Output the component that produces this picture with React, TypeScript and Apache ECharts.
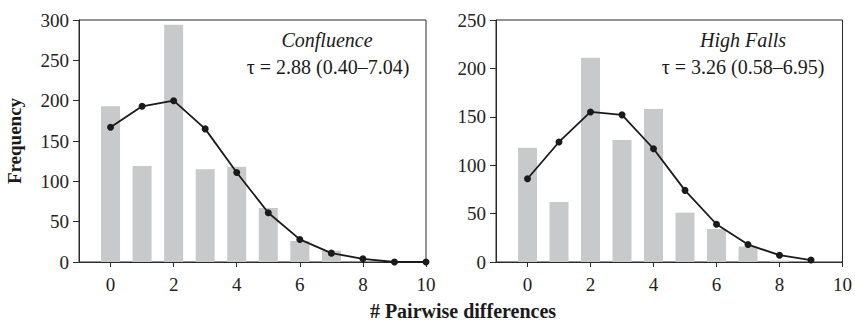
import React, { useEffect, useRef } from "react";
import * as echarts from "echarts";

const xTicks = [0, 2, 4, 6, 8, 10];
const leftX = [0, 1, 2, 3, 4, 5, 6, 7, 8, 9, 10];
const leftBars = [193, 119, 294, 115, 118, 67, 26, 14, 0, 0, 0];
const leftLine = [167, 193, 200, 165, 111, 61, 28, 11, 4, 0, 0];
const rightX = [0, 1, 2, 3, 4, 5, 6, 7, 8, 9];
const rightBars = [118, 62, 211, 126, 158, 51, 34, 16, 1.5, 0];
const rightLine = [86, 124, 155, 152, 117, 74, 39, 18, 7, 2];
const leftTitle = "Confluence";
const leftTau = "τ = 2.88 (0.40–7.04)";
const rightTitle = "High Falls";
const rightTau = "τ = 3.26 (0.58–6.95)";
const yLabel = "Frequency";
const xLabel = "# Pairwise differences";

const FONT = "Liberation Serif";
const AXIS = "#2a2a2a";

export default function App() {
  const ref = useRef<HTMLDivElement>(null);
  useEffect(() => {
    document.body.style.margin = "0";
    const chart = echarts.init(ref.current!, null, { renderer: "svg" });
    const pair = (xs: number[], ys: number[]) => xs.map((x, i) => [x, ys[i]]);
    const grids = [
      { left: 79, top: 20, width: 347, height: 242 },
      { left: 496, top: 20, width: 347, height: 242 },
    ];
    const xAxisCfg = (gi: number) => ({
      type: "value",
      gridIndex: gi,
      min: -1,
      max: 10,
      axisLine: { show: true, onZero: false, lineStyle: { color: AXIS, width: 1 } },
      axisTick: { show: true, inside: false, length: 5, customValues: xTicks, lineStyle: { color: AXIS } },
      axisLabel: { customValues: xTicks, margin: 13, fontFamily: FONT, fontSize: 19, color: "#222" },
      splitLine: { show: false },
    });
    const yAxisCfg = (gi: number, max: number) => ({
      type: "value",
      gridIndex: gi,
      min: 0,
      max,
      interval: 50,
      axisLine: { show: true, onZero: false, lineStyle: { color: AXIS, width: 1 } },
      axisTick: { show: true, inside: false, length: 6, lineStyle: { color: AXIS } },
      axisLabel: { margin: 10, fontFamily: FONT, fontSize: 19, color: "#222" },
      splitLine: { show: false },
    });
    const barStyle = { color: "#c8c9cb" };
    const lineSeries = (gi: number, data: number[][]) => ({
      type: "line",
      xAxisIndex: gi,
      yAxisIndex: gi,
      data,
      symbol: "circle",
      symbolSize: 7,
      lineStyle: { color: "#1a1a1a", width: 1.8 },
      itemStyle: { color: "#1a1a1a" },
      z: 5,
    });
    const textStyle = (txt: string, x: number, y: number, extra: any = {}) => ({
      type: "text",
      x,
      y,
      style: {
        text: txt,
        fontFamily: FONT,
        fontSize: 20,
        fill: "#1a1a1a",
        textAlign: "center",
        textVerticalAlign: "middle",
        ...extra,
      },
    });
    chart.setOption({
      animation: false,
      grid: grids.map((g) => ({ ...g, show: true, borderColor: AXIS, borderWidth: 1, backgroundColor: "transparent" })),
      xAxis: [xAxisCfg(0), xAxisCfg(1)],
      yAxis: [yAxisCfg(0, 300), yAxisCfg(1, 250)],
      series: [
        { type: "bar", xAxisIndex: 0, yAxisIndex: 0, data: pair(leftX, leftBars), barWidth: 19, itemStyle: barStyle },
        lineSeries(0, pair(leftX, leftLine)),
        { type: "bar", xAxisIndex: 1, yAxisIndex: 1, data: pair(rightX, rightBars), barWidth: 19, itemStyle: barStyle },
        lineSeries(1, pair(rightX, rightLine)),
      ],
      graphic: [
        textStyle(leftTitle, 327, 40, { fontStyle: "italic" }),
        textStyle(leftTau, 328, 67),
        textStyle(rightTitle, 743, 40, { fontStyle: "italic" }),
        textStyle(rightTau, 743, 67),
        { ...textStyle(yLabel, 14, 141, { fontWeight: "bold", fontSize: 19 }), rotation: Math.PI / 2 },
        textStyle(xLabel, 463, 311, { fontWeight: "bold" }),
      ],
    });
    return () => chart.dispose();
  }, []);
  return <div ref={ref} style={{ width: 855, height: 334 }} />;
}
